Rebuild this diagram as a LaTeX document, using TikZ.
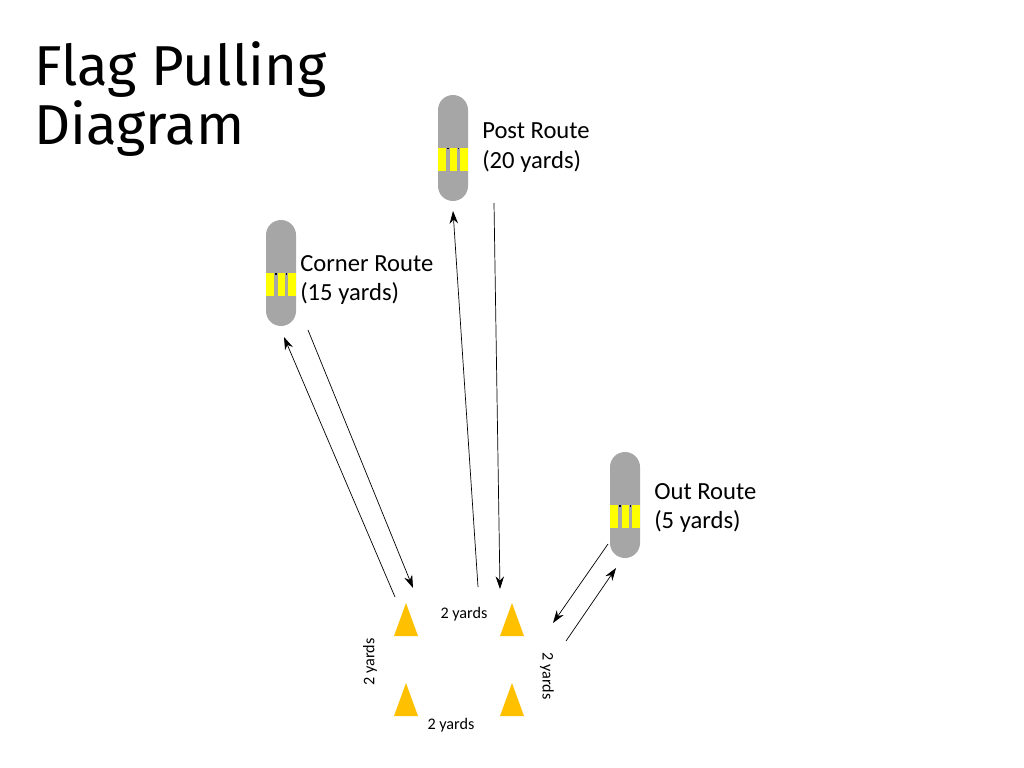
\documentclass[tikz,border=0pt]{standalone}
\usepackage{fontspec}
\setmainfont{Carlito}
\newfontfamily\titlefont{Fira Sans}
\usetikzlibrary{arrows.meta}
\definecolor{flaggray}{HTML}{A6A6A6}
\definecolor{flagyellow}{HTML}{FFFF00}
\definecolor{coneorange}{HTML}{FFC000}

\begin{document}
\begin{tikzpicture}[x=0.025cm,y=-0.025cm,
    flag/.style={fill=flaggray,rounded corners=0.375cm},
    stripe/.style={fill=flagyellow},
    cone/.style={fill=coneorange},
    route/.style={anchor=west,align=left,inner sep=0pt,font=\fontsize{17.5}{21.3}\selectfont},
    dist/.style={inner sep=0pt,font=\fontsize{11.5}{13}\selectfont},
    arr/.style={-{Stealth[length=9pt,width=6pt]},line width=0.5pt}]
    \useasboundingbox (0,0) rectangle (1024,768);

    \node[anchor=north west,align=left,inner sep=0pt,font=\titlefont\fontsize{40}{42.5}\selectfont] (title) at (34,41) {Flag Pulling\\Diagram};

    % flags
    \foreach \name/\x/\y in {post/453/148, corner/281/273, out/625/505} {
        \coordinate (\name) at (\x,\y);
        \fill[flag] (\x-15,\y-53) rectangle (\x+15,\y+53);
        \fill[stripe] (\x-15,\y) rectangle (\x-7,\y+23);
        \fill[stripe] (\x-3.5,\y) rectangle (\x+3.5,\y+23);
        \fill[stripe] (\x+7,\y) rectangle (\x+15,\y+23);
        \fill[black] (\x-6,\y) rectangle (\x-4.5,\y+1.5);
        \fill[black] (\x+4.5,\y) rectangle (\x+6,\y+1.5);
    }
    \node[route] (postlbl) at (482,148) {Post Route\\(20 yards)};
    \node[route] (cornerlbl) at (300,280) {Corner Route\\(15 yards)};
    \node[route] (outlbl) at (654,508) {Out Route\\(5 yards)};

    % cones
    \foreach \name/\x/\y in {tl/406/603, tr/512/603, bl/406/683, br/512/683} {
        \coordinate (\name) at (\x,\y);
        \fill[cone] (\name) -- ++(12,33) -- ++(-24,0) -- cycle;
    }
    \node[dist] (top) at (464,614) {2 yards};
    \node[dist] (bottom) at (451,725) {2 yards};
    \node[dist,rotate=90] (left) at (370,662) {2 yards};
    \node[dist,rotate=-90] (right) at (547,676) {2 yards};

    % routes
    \coordinate (c1) at (395,597); \coordinate (c2) at (284,337);
    \coordinate (c3) at (308,330); \coordinate (c4) at (413,588);
    \coordinate (p1) at (478,587); \coordinate (p2) at (453,211);
    \coordinate (p3) at (494,203); \coordinate (p4) at (500,589);
    \coordinate (o1) at (608,544); \coordinate (o2) at (553,623);
    \coordinate (o3) at (566,641); \coordinate (o4) at (616,568);

    \draw[arr] (c1) -- (c2);
    \draw[arr] (c3) -- (c4);
    \draw[arr] (p1) -- (p2);
    \draw[arr] (p3) -- (p4);
    \draw[arr] (o1) -- (o2);
    \draw[arr] (o3) -- (o4);
\end{tikzpicture}
\end{document}
